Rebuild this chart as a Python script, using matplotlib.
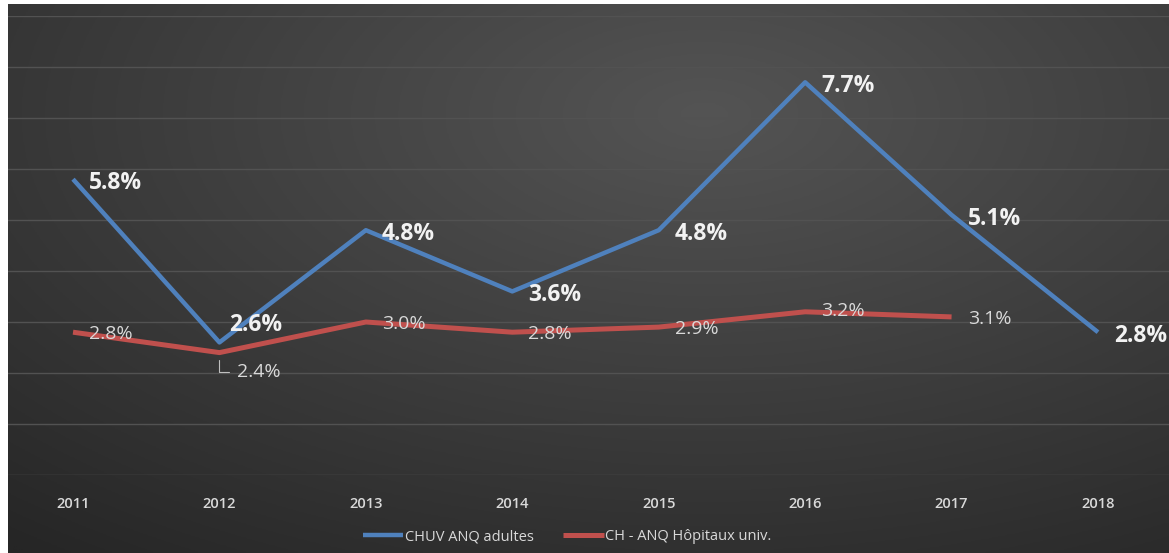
import numpy as np
import matplotlib.pyplot as plt

years = ["2011", "2012", "2013", "2014", "2015", "2016", "2017", "2018"]
chuv = [5.8, 2.6, 4.8, 3.6, 4.8, 7.7, 5.1, 2.8]
ch_univ = [2.8, 2.4, 3.0, 2.8, 2.9, 3.2, 3.1]

plt.rcParams['font.family'] = ['Open Sans', 'DejaVu Sans']

W, H = 1169, 553
fig = plt.figure(figsize=(W / 100, H / 100), dpi=100, facecolor='white')

# dark radial gradient background
bg = fig.add_axes([8 / W, 0, 1 - 8 / W, 1 - 4 / H])
gx, gy = np.meshgrid(np.linspace(0, 1, 400), np.linspace(0, 1, 200))
r = np.sqrt(((gx - 0.6) / 1.1) ** 2 + ((gy - 0.2) / 1.2) ** 2)
r = np.clip(r / 0.85, 0, 1)
top_c = np.array([0x54, 0x54, 0x54]) / 255
edge_c = np.array([0x26, 0x26, 0x26]) / 255
img = top_c[None, None, :] * (1 - r[..., None]) + edge_c[None, None, :] * r[..., None]
bg.imshow(img, aspect='auto', extent=[0, 1, 1, 0])
bg.set_axis_off()

ax = fig.add_axes([8 / W, 1 - 475 / H, 1 - 8 / W, (475 - 16) / H])
ax.patch.set_alpha(0)
x = np.arange(len(years))
ax.set_xlim(-65 / 146.4, 7 + 71 / 146.4)
ax.set_ylim(0, 9)
ax.set_yticks(range(10))
ax.yaxis.grid(True, color='#525252', lw=1)
ax.set_axisbelow(True)
for s in ax.spines.values():
    s.set_visible(False)
ax.tick_params(axis='y', left=False, labelleft=False)
ax.tick_params(axis='x', length=0, pad=16, labelsize=10.5, labelcolor='#d9d9d9')
ax.set_xticks(x)
ax.set_xticklabels(years, fontweight='semibold')

ax.plot(x, chuv, color='#4f81bd', lw=3.2, label='CHUV ANQ adultes', solid_capstyle='butt')
ax.plot(x[:len(ch_univ)], ch_univ, color='#c0504d', lw=3.6, label='CH - ANQ Hôpitaux univ.',
        solid_capstyle='butt')

for i, v in enumerate(chuv):
    dx, dy = 16, -4
    if i == 1:
        dx, dy = 10, 17
    ax.annotate(f"{v:.1f}%", (x[i], v), xytext=(dx, dy), textcoords='offset pixels',
                ha='left', va='center', fontsize=16.5, fontweight='bold', color='#f2f2f2')

for i, v in enumerate(ch_univ):
    if i == 1:
        ax.annotate(f"{v:.1f}%", (x[i], v), xytext=(18, -19), textcoords='offset pixels',
                    ha='left', va='center', fontsize=14, color='#d9d9d9',
                    arrowprops=dict(arrowstyle='-', color='#bfbfbf', lw=0.8,
                                    connectionstyle='angle,angleA=0,angleB=90,rad=0',
                                    shrinkA=4, shrinkB=5))
        continue
    dy = -2 if i != 5 else 1
    ax.annotate(f"{v:.1f}%", (x[i], v), xytext=(16, dy), textcoords='offset pixels',
                ha='left', va='center', fontsize=14, color='#d9d9d9')

fig.legend(loc='center', bbox_to_anchor=(567 / W, 1 - 537 / H), ncol=2, frameon=False,
           fontsize=10.5, labelcolor='#d9d9d9', handlelength=2.8, handletextpad=0.1,
           columnspacing=2.0)

fig.savefig("out.png", dpi=100, facecolor=fig.get_facecolor())
